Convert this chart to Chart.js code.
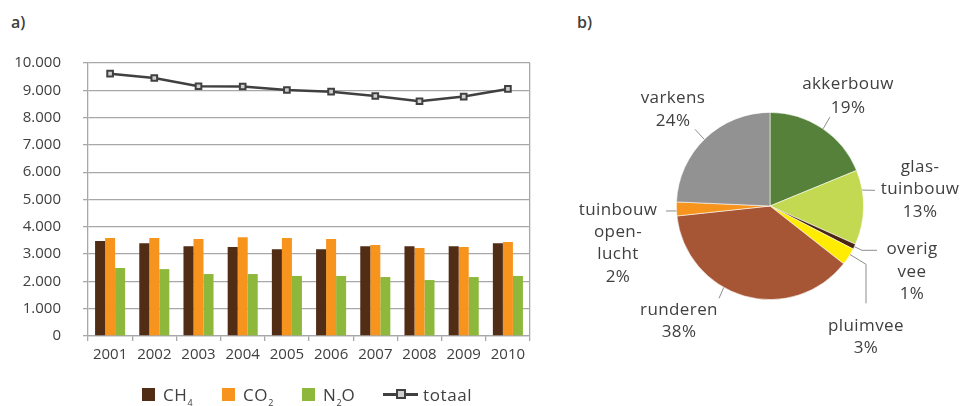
<!DOCTYPE html>
<html><head><meta charset="utf-8">
<script src="https://cdn.jsdelivr.net/npm/chart.js@4.4.1/dist/chart.umd.min.js"></script>
<style>
html,body{margin:0;padding:0;background:#fff;}
body{width:963px;height:406px;position:relative;overflow:hidden;font-family:"Open Sans",sans-serif;color:#404040;}
.panel{position:absolute;font-weight:600;font-size:16px;line-height:18px;}
#c1wrap{position:absolute;left:0;top:0;width:560px;height:406px;}
#c2wrap{position:absolute;left:560px;top:0;width:403px;height:406px;}
.leg{position:absolute;top:384px;height:21px;line-height:21px;display:flex;align-items:center;font-size:17px;letter-spacing:0.6px;white-space:nowrap;}
.box{width:13px;height:13px;margin-right:8px;flex:none;}
.leg sub{font-size:9px;vertical-align:-5px;line-height:0;letter-spacing:0;}
.lineicon{position:relative;width:35px;height:3px;background:#404040;margin-right:5px;flex:none;}
.lineicon span{position:absolute;left:13px;top:-4px;width:6px;height:6px;border:2px solid #404040;background:#d0d0d0;}
</style></head>
<body>
<div class="panel" style="left:11px;top:13px;">a)</div>
<div class="panel" style="left:577px;top:13px;">b)</div>
<div id="c1wrap"><canvas id="c1" width="560" height="406"></canvas></div>
<div id="c2wrap"><canvas id="c2" width="403" height="406"></canvas></div>
<div id="legend"></div>
<script>
// ---------- data: panel a ----------
const years = ['2001','2002','2003','2004','2005','2006','2007','2008','2009','2010'];
const ch4 = [3480,3400,3290,3260,3180,3180,3290,3290,3290,3400];
const co2 = [3590,3590,3550,3620,3590,3550,3330,3220,3260,3440];
const n2o = [2490,2450,2270,2270,2200,2200,2160,2050,2160,2200];
const totaal = [9610,9450,9150,9140,9010,8950,8790,8600,8770,9050];
const seriesNames = ['CH4','CO2','N2O','totaal'];
const yMin = 0, yMax = 10000, yStep = 1000;

// ---------- data: panel b ----------
const sectors = ['akkerbouw','glastuinbouw','overig vee','pluimvee','runderen','tuinbouw openlucht','varkens'];
const shares = [18.8,12.9,0.9,3.0,37.7,2.4,24.3];
const sectorLines = [['akkerbouw'],['glas-','tuinbouw'],['overig','vee'],['pluimvee'],['runderen'],['tuinbouw','open-','lucht'],['varkens']];

// ---------- styles ----------
const barColors = ['#512D16','#F7941D','#8DB83B'];
const lineColor = '#404040';
const sectorColors = ['#55813A','#C3D952','#4A2511','#FFEC00','#A65535','#F7941D','#929292'];
const gridColor = '#A8A8A8';
const textColor = '#404040';
const FONT = '"Open Sans", sans-serif';
// label layout relative to pie centre (text centre + leader polyline), t = attach fraction within slice
const labelLayout = [
  {t:0.51, leader:[[60,-89]], tx:78, ty:[-122,-98]},
  {t:0.27, leader:[[105,-15.7]], tx:150, ty:[-39,-16.5,6]},
  {t:0.5, leader:[[92,44.3],[107,44.3]], tx:142, ty:[43.5,66,88.5]},
  {t:0.36, leader:[[96,58.3],[96,97.3]], tx:96, ty:[120,142.5]},
  {t:0.6, leader:[[-51,92.3]], tx:-91, ty:[104.3,126.3]},
  {t:0.36, leader:[[-104,5]], tx:-152, ty:[4.3,26.3,48.3,71]},
  {t:0.49, leader:[[-75,-76.7]], tx:-97, ty:[-107.7,-84.7]}
];

function fmt(v){ return String(v).replace(/\B(?=(\d{3})+(?!\d))/g,'.'); }

// ---------- legend (HTML) ----------
const legendX = [142,222,302,383];
const legendEl = document.getElementById('legend');
seriesNames.forEach((n,i)=>{
  const d = document.createElement('div');
  d.className='leg'; d.style.left = legendX[i]+'px';
  const label = n.replace(/(\d)/g,'<sub>$1</sub>');
  if(i<3){ d.innerHTML = '<div class="box" style="background:'+barColors[i]+'"></div><span>'+label+'</span>'; }
  else { d.innerHTML = '<div class="lineicon"><span></span></div><span>'+label+'</span>'; }
  legendEl.appendChild(d);
});

Chart.defaults.font.family = FONT;
Chart.defaults.color = textColor;

// ---------- chart a ----------
new Chart(document.getElementById('c1'), {
  type:'bar',
  data:{
    labels: years,
    datasets:[
      {type:'line', label:seriesNames[3], data:totaal, borderColor:lineColor, borderWidth:2.5,
       pointStyle:'rect', pointRadius:4, pointBorderWidth:2, pointBorderColor:lineColor,
       pointBackgroundColor:'#d0d0d0', tension:0, order:0},
      {label:seriesNames[0], data:ch4, backgroundColor:barColors[0], order:1},
      {label:seriesNames[1], data:co2, backgroundColor:barColors[1], order:1},
      {label:seriesNames[2], data:n2o, backgroundColor:barColors[2], order:1}
    ]
  },
  options:{
    responsive:false, animation:false,
    layout:{padding:{left:0,right:30,top:63,bottom:40}},
    datasets:{bar:{categoryPercentage:0.68, barPercentage:1.0}},
    plugins:{legend:{display:false}, tooltip:{enabled:false}},
    scales:{
      x:{
        offset:true,
        grid:{offset:true, drawOnChartArea:true, color:c=>c.tick?'transparent':gridColor, tickColor:gridColor, tickLength:5, lineWidth:1.3},
        border:{display:true,color:gridColor,width:1.3},
        ticks:{font:{size:15}, padding:5, color:textColor, maxRotation:0},
        afterFit(s){ s.height = 30; }
      },
      y:{
        min:yMin, max:yMax,
        grid:{color:gridColor, tickLength:5, lineWidth:1.3},
        border:{display:true,color:gridColor,width:1.3},
        ticks:{stepSize:yStep, font:{size:15}, padding:22, color:textColor, callback:v=>fmt(v)},
        afterFit(s){ s.width = 88; }
      }
    }
  }
});

// ---------- chart b ----------
const pieLabels = {
  id:'pieLabels',
  afterDatasetsDraw(chart){
    const ctx = chart.ctx;
    const meta = chart.getDatasetMeta(0);
    meta.data.forEach((arc,i)=>{
      const L = labelLayout[i];
      const p = arc.getProps(['x','y','startAngle','endAngle','outerRadius'], true);
      const a = p.startAngle + L.t*(p.endAngle-p.startAngle);
      ctx.save();
      ctx.strokeStyle = '#8C8C8C'; ctx.lineWidth = 1;
      ctx.beginPath();
      ctx.moveTo(p.x + p.outerRadius*Math.cos(a), p.y + p.outerRadius*Math.sin(a));
      L.leader.forEach(q=>ctx.lineTo(p.x+q[0], p.y+q[1]));
      ctx.stroke();
      ctx.fillStyle = textColor;
      ctx.font = '17px ' + FONT;
      ctx.textAlign = 'center'; ctx.textBaseline = 'middle';
      try{ ctx.letterSpacing = '0.4px'; }catch(e){}
      const lines = sectorLines[i].concat([Math.round(shares[i])+'%']);
      lines.forEach((s,k)=>ctx.fillText(s, p.x+L.tx, p.y+L.ty[k]));
      ctx.restore();
    });
  }
};

new Chart(document.getElementById('c2'), {
  type:'pie',
  data:{labels:sectors, datasets:[{data:shares, backgroundColor:sectorColors, borderColor:'rgba(255,255,255,0.7)', borderWidth:0.8}]},
  options:{
    responsive:false, animation:false,
    layout:{padding:{left:116,right:99,top:112,bottom:106}},
    plugins:{legend:{display:false}, tooltip:{enabled:false}}
  },
  plugins:[pieLabels]
});
</script>
</body></html>
